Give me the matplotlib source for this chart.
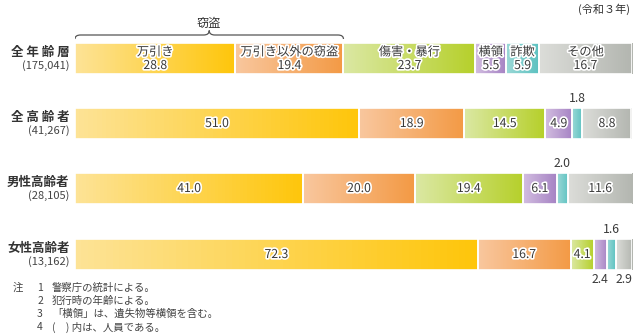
import numpy as np
import matplotlib
matplotlib.use("Agg")
import matplotlib.pyplot as plt
import matplotlib.patheffects as pe
from matplotlib.path import Path
from matplotlib.patches import PathPatch
from matplotlib.colors import LinearSegmentedColormap

plt.rcParams['font.family'] = ['Noto Sans CJK JP', 'DejaVu Sans']

# data
rows = ["全 年 齢 層", "全 高 齢 者", "男性高齢者", "女性高齢者"]
counts = ["(175,041)", "(41,267)", "(28,105)", "(13,162)"]
categories = ["万引き", "万引き以外の窃盗", "傷害・暴行", "横領", "詐欺", "その他"]
shares = [
    [28.8, 19.4, 23.7, 5.5, 5.9, 16.7],
    [51.0, 18.9, 14.5, 4.9, 1.8, 8.8],
    [41.0, 20.0, 19.4, 6.1, 2.0, 11.6],
    [72.3, 16.7, 4.1, 2.4, 1.6, 2.9],
]
notes = ["警察庁の統計による。", "犯行時の年齢による。",
         "「横領」は、遺失物等横領を含む。", "(　) 内は、人員である。"]

# gradient (left, right) colours per category
grads = [("#fde396", "#ffc60b"), ("#f9c79e", "#f39a45"), ("#dbe8a3", "#b6d02b"),
         ("#d2bde0", "#a683c4"), ("#9ad8d6", "#5dc2c1"), ("#dcddd9", "#b3b6b0")]

W, H = 640, 336
fig = plt.figure(figsize=(W / 100, H / 100), dpi=100)
x0, x1 = 75, 632
ax = fig.add_axes([x0 / W, 0, (x1 - x0) / W, 1])
ax.axis('off')

ycent = [58.5, 123.5, 188.5, 254.5]
bh = 31
halo = [pe.withStroke(linewidth=2.4, foreground="white")]
txtc = "#3a3a3a"
fs = 8.8

for r, vals in enumerate(shares):
    yc = ycent[r]
    left = 0
    for c, v in enumerate(vals):
        cmap = LinearSegmentedColormap.from_list("g", grads[c])
        grad = np.linspace(0, 1, 64).reshape(1, -1)
        ax.imshow(grad, cmap=cmap, aspect='auto',
                  extent=(left, left + v, yc + bh / 2, yc - bh / 2), zorder=1)
        ax.barh(yc, v, left=left, height=bh, color='none', edgecolor='white',
                linewidth=1.2, zorder=2)
        mid = left + v / 2
        if r == 0:
            ax.text(mid, yc - 6.5, categories[c], ha='center', va='center', fontsize=fs,
                    color=txtc, path_effects=halo, zorder=3)
            ax.text(mid, yc + 7, f"{v:.1f}", ha='center', va='center', fontsize=fs,
                    color=txtc, path_effects=halo, zorder=3)
        elif v >= 4:
            ax.text(mid, yc, f"{v:.1f}", ha='center', va='center', fontsize=fs,
                    color=txtc, path_effects=halo, zorder=3)
        elif c == 4:
            ax.text(mid, yc - bh / 2 - 3, f"{v:.1f}", ha='center', va='bottom',
                    fontsize=fs, color=txtc, zorder=3)
        else:
            ax.text(mid, yc + bh / 2 + 3, f"{v:.1f}", ha='center', va='top',
                    fontsize=fs, color=txtc, zorder=3)
        left += v

    ax.text(-1, yc - 6, rows[r], ha='right', va='center', fontsize=9,
            color="#333333", fontweight='bold')
    ax.text(-1, yc + 7.5, counts[r], ha='right', va='center', fontsize=8,
            color="#444444")

# brace over 窃盗
b1 = shares[0][0] + shares[0][1]
bm = b1 / 2
yb, yt, ye = 35, 30.5, 39
d = 1.0
verts = [(0, ye), (0, yb), (d, yb), (bm - d, yb), (bm, yb), (bm, yt),
         (bm, yb), (bm + d, yb), (b1 - d, yb), (b1, yb), (b1, ye)]
codes = [Path.MOVETO, Path.CURVE3, Path.CURVE3, Path.LINETO, Path.CURVE3, Path.CURVE3,
         Path.CURVE3, Path.CURVE3, Path.LINETO, Path.CURVE3, Path.CURVE3]
ax.add_patch(PathPatch(Path(verts, codes), facecolor='none', edgecolor="#555555", lw=0.9))
ax.text(bm, 23, "窃盗", ha='center', va='center', fontsize=fs, color="#333333")

ax.set_xlim(0, 100)
ax.set_ylim(H, 0)

fig.text(630 / W, 1 - 9 / H, "(令和３年)", ha='right', va='center', fontsize=8,
         color="#333333")

# notes
for i, n in enumerate(notes):
    y = 1 - (288 + 13 * i) / H
    if i == 0:
        fig.text(13 / W, y, "注", ha='left', va='center', fontsize=7.5, color="#444444")
    fig.text(40 / W, y, str(i + 1), ha='center', va='center', fontsize=7.5, color="#444444")
    fig.text(52 / W, y, n, ha='left', va='center', fontsize=7.5, color="#444444")

fig.savefig("out.png", dpi=100)
